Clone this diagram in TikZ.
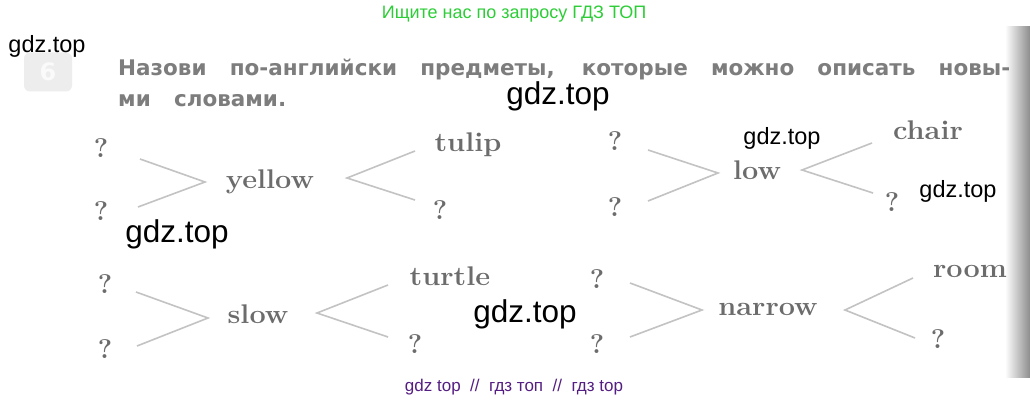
\documentclass[tikz,border=0pt]{standalone}
\usepackage{fontspec}
\usepackage{graphicx}
\newfontfamily\wmfont{Liberation Sans}
\newfontfamily\rufont{DejaVu Sans}
\definecolor{wmgreen}{RGB}{45,205,55}
\definecolor{wmpurple}{RGB}{85,30,130}
\definecolor{wordgray}{RGB}{108,108,108}
\definecolor{linegray}{RGB}{195,195,195}
\definecolor{rugray}{RGB}{125,125,125}
\newcommand\widew[1]{\scalebox{1.07}[1]{#1}}
\tikzset{
  word/.style={inner sep=0pt, anchor=base, text=wordgray, font=\bfseries\fontsize{27}{30}\selectfont},
  wm/.style={inner sep=0pt, anchor=base, text=black, font=\wmfont\fontsize{23.5}{26}\selectfont},
  wmbig/.style={wm, font=\wmfont\fontsize{31.5}{34}\selectfont},
  chev/.style={draw=linegray, line width=1.6pt},
  rutext/.style={inner sep=0pt, anchor=base west, text=rugray, font=\rufont\bfseries\fontsize{21.5}{26}\selectfont},
  badge/.style={fill=black!7, draw=none, rounded corners=6pt, minimum width=48pt, minimum height=39pt,
    inner sep=0pt, text=black!2, font=\rufont\bfseries\fontsize{24}{26}\selectfont},
}
\begin{document}
\begin{tikzpicture}[x=1pt,y=-1pt]
\fill[white] (0,0) rectangle (1030,403);
\useasboundingbox (0,0) rectangle (1030,403);

% page edge shading
\shade[left color=white, right color=black!45] (1005,27) rectangle (1030,377);

% watermarks
\node[inner sep=0pt, anchor=base, text=wmgreen, font=\wmfont\fontsize{18}{20}\selectfont] (topmark) at (514,19) {Ищите нас по запросу ГДЗ ТОП};
\node[inner sep=0pt, anchor=base, text=wmpurple, font=\wmfont\fontsize{17}{19}\selectfont] (botmark) at (514,391) {gdz top\ \ //\ \ гдз топ\ \ //\ \ гдз top};

% exercise badge
\node[badge] (six) at (48,72) {6};
\node[wm] (wm1) at (47,53) {gdz.top};

% task text
\node[rutext] (task1) at (118,76) {\makebox[892pt][s]{Назови по-английски предметы, которые можно описать новы-}};
\node[rutext] (task2) at (118,107) {\makebox[168pt][s]{ми словами.}};
\node[wmbig] (wm2) at (558,105) {gdz.top};

% row 1, left
\node[word] (q1a) at (101,158) {?};
\node[word] (q1b) at (101,221) {?};
\coordinate (c1a) at (140,159);
\coordinate (c1t) at (205,182);
\coordinate (c1b) at (138,207);
\node[word] (yellow) at (270,189) {\widew{yellow}};
\coordinate (d1a) at (415,151);
\coordinate (d1t) at (347,178);
\coordinate (d1b) at (415,200);
\node[word] (tulip) at (468,152) {\widew{tulip}};
\node[word] (q1c) at (440,220) {?};
\draw[chev] (c1a) -- (c1t) -- (c1b);
\draw[chev] (d1a) -- (d1t) -- (d1b);
\node[wmbig] (wm3) at (177,243) {gdz.top};

% row 1, right
\node[word] (q2a) at (615,151) {?};
\node[word] (q2b) at (615,217) {?};
\coordinate (c2a) at (648,150);
\coordinate (c2t) at (718,173);
\coordinate (c2b) at (648,201);
\node[word] (low) at (757,180) {\widew{low}};
\coordinate (d2a) at (872,143);
\coordinate (d2t) at (802,170);
\coordinate (d2b) at (873,193);
\node[word] (chair) at (928,140) {\widew{chair}};
\node[word] (q2c) at (892,212) {?};
\draw[chev] (c2a) -- (c2t) -- (c2b);
\draw[chev] (d2a) -- (d2t) -- (d2b);
\node[wm] (wm4) at (782,145) {gdz.top};
\node[wm] (wm5) at (958,198) {gdz.top};

% row 2, left
\node[word] (q3a) at (105,293) {?};
\node[word] (q3b) at (105,358) {?};
\coordinate (c3a) at (136,292);
\coordinate (c3t) at (208,318);
\coordinate (c3b) at (137,346);
\node[word] (slow) at (258,323) {\widew{slow}};
\coordinate (d3a) at (388,285);
\coordinate (d3t) at (317,313);
\coordinate (d3b) at (388,337);
\node[word] (turtle) at (450,285) {\widew{turtle}};
\node[word] (q3c) at (415,353) {?};
\draw[chev] (c3a) -- (c3t) -- (c3b);
\draw[chev] (d3a) -- (d3t) -- (d3b);
\node[wmbig] (wm6) at (525,322) {gdz.top};

% row 2, right
\node[word] (q4a) at (597,288) {?};
\node[word] (q4b) at (597,353) {?};
\coordinate (c4a) at (630,283);
\coordinate (c4t) at (702,310);
\coordinate (c4b) at (630,337);
\node[word] (narrow) at (768,315) {\widew{narrow}};
\coordinate (d4a) at (913,278);
\coordinate (d4t) at (845,310);
\coordinate (d4b) at (915,338);
\node[word] (room) at (970,277) {\widew{room}};
\node[word] (q4c) at (938,348) {?};
\draw[chev] (c4a) -- (c4t) -- (c4b);
\draw[chev] (d4a) -- (d4t) -- (d4b);
\end{tikzpicture}
\end{document}
